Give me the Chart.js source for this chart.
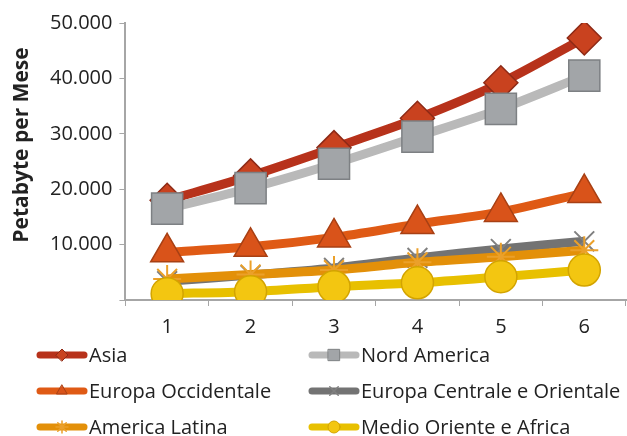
<!DOCTYPE html>
<html lang="it">
<head>
    <meta charset="UTF-8">
    <script src="https://cdn.jsdelivr.net/npm/chart.js"></script>
    <title>Petabyte per Mese</title>
    <style>
        html, body {
            margin: 0;
            padding: 0;
            background: #fff;
        }
        .chart-box {
            position: relative;
            width: 627px;
            height: 436px;
        }
    </style>
</head>
<body>
<div class="chart-box">
    <canvas id="trafficChart"></canvas>
</div>

<script>
    // Data
    const years = ['1', '2', '3', '4', '5', '6'];
    const asia = [18000, 22400, 27500, 32800, 39200, 47300];
    const nordAmerica = [16500, 20200, 24600, 29500, 34500, 40500];
    const europaOccidentale = [8600, 9600, 11300, 13700, 15900, 19300];
    const europaCentrale = [3400, 4500, 5800, 7600, 9200, 10600];
    const americaLatina = [3800, 4600, 5400, 6800, 7800, 9000];
    const medioOriente = [1150, 1500, 2400, 3100, 4200, 5400];
    const yTicks = [0, 10000, 20000, 30000, 40000, 50000];
    const yTitle = 'Petabyte per Mese';

    const seriesNames = ['Asia', 'Nord America', 'Europa Occidentale',
        'Europa Centrale e Orientale', 'America Latina', 'Medio Oriente e Africa'];
    const seriesData = [asia, nordAmerica, europaOccidentale, europaCentrale, americaLatina, medioOriente];

    const styles = [
        { line: '#b7321b', fill: '#c9421f', border: '#8e2a16', point: 'rectRot', radius: 17 },
        { line: '#b9b9b9', fill: '#a2a5a8', border: '#7d8083', point: 'rect', radius: 22 },
        { line: '#df5a15', fill: '#d9531a', border: '#a84014', point: 'triangle', radius: 19 },
        { line: '#737373', fill: '#8a8a8a', border: '#808080', point: 'crossRot', radius: 14 },
        { line: '#e39009', fill: '#eba02a', border: '#eba02a', point: 'star', radius: 14 },
        { line: '#e8c000', fill: '#f3c611', border: '#d3a400', point: 'circle', radius: 16 }
    ];

    const fontFamily = '"Open Sans", "Noto Sans", sans-serif';

    // axis title (sits a bit above the middle, like the original) and the two-column legend
    const extrasPlugin = {
        id: 'extras',
        afterDraw(chart) {
            const c = chart.ctx;
            c.save();
            c.translate(22, 145);
            c.rotate(-Math.PI / 2);
            c.fillStyle = '#222';
            c.font = 'bold 21px ' + fontFamily;
            c.textAlign = 'center';
            c.textBaseline = 'middle';
            c.fillText(yTitle, 0, 0);
            c.restore();

            const cols = [37, 309];
            const rows = [355, 391, 427];
            c.save();
            seriesNames.forEach((name, i) => {
                const s = styles[i];
                const x = cols[i % 2];
                const y = rows[Math.floor(i / 2)];
                c.strokeStyle = s.line;
                c.lineWidth = 7;
                c.lineCap = 'round';
                c.beginPath();
                c.moveTo(x + 3, y);
                c.lineTo(x + 47, y);
                c.stroke();
                c.fillStyle = s.fill;
                c.strokeStyle = s.border;
                c.lineWidth = s.point === 'crossRot' || s.point === 'star' ? 1.5 : 1;
                Chart.helpers.drawPoint(c, { pointStyle: s.point, radius: s.point === 'rect' ? 8 : 6, borderWidth: c.lineWidth }, x + 25, y);
                c.fillStyle = '#222';
                c.font = '20px ' + fontFamily;
                c.textBaseline = 'middle';
                c.textAlign = 'left';
                c.fillText(name, x + 52, y + 1);
            });
            c.restore();
        }
    };

    const ctx = document.getElementById('trafficChart').getContext('2d');
    const trafficChart = new Chart(ctx, {
        type: 'line',
        data: {
            labels: years,
            datasets: seriesData.map((values, i) => ({
                label: seriesNames[i],
                data: values,
                order: 6 - i,
                borderColor: styles[i].line,
                borderWidth: 9,
                tension: 0.3,
                pointStyle: styles[i].point,
                pointRadius: styles[i].radius,
                pointHoverRadius: styles[i].radius,
                pointBackgroundColor: styles[i].fill,
                pointBorderColor: styles[i].border,
                pointBorderWidth: styles[i].point === 'crossRot' || styles[i].point === 'star' ? 2 : 1.5
            }))
        },
        options: {
            responsive: true,
            maintainAspectRatio: false,
            animation: false,
            layout: {
                autoPadding: false,
                padding: { top: 23, right: 1, bottom: 88, left: 43 }
            },
            plugins: {
                legend: { display: false },
                tooltip: { enabled: false }
            },
            scales: {
                x: {
                    offset: true,
                    grid: {
                        offset: true,
                        drawOnChartArea: false,
                        drawTicks: true,
                        tickLength: 6,
                        color: '#a6a6a6'
                    },
                    border: { color: '#a6a6a6', width: 2 },
                    ticks: {
                        color: '#222',
                        font: { family: fontFamily, size: 20 },
                        padding: 9
                    }
                },
                y: {
                    min: yTicks[0],
                    max: yTicks[yTicks.length - 1],
                    afterBuildTicks: (axis) => {
                        axis.ticks = yTicks.map(v => ({ value: v }));
                    },
                    grid: {
                        drawOnChartArea: false,
                        drawTicks: true,
                        tickLength: 6,
                        color: '#a6a6a6'
                    },
                    border: { color: '#a6a6a6', width: 2 },
                    ticks: {
                        color: '#222',
                        font: { family: fontFamily, size: 20 },
                        padding: 7,
                        callback: (v) => v === 0 ? '' : v.toLocaleString('de-DE')
                    }
                }
            }
        },
        plugins: [extrasPlugin]
    });
</script>
</body>
</html>
